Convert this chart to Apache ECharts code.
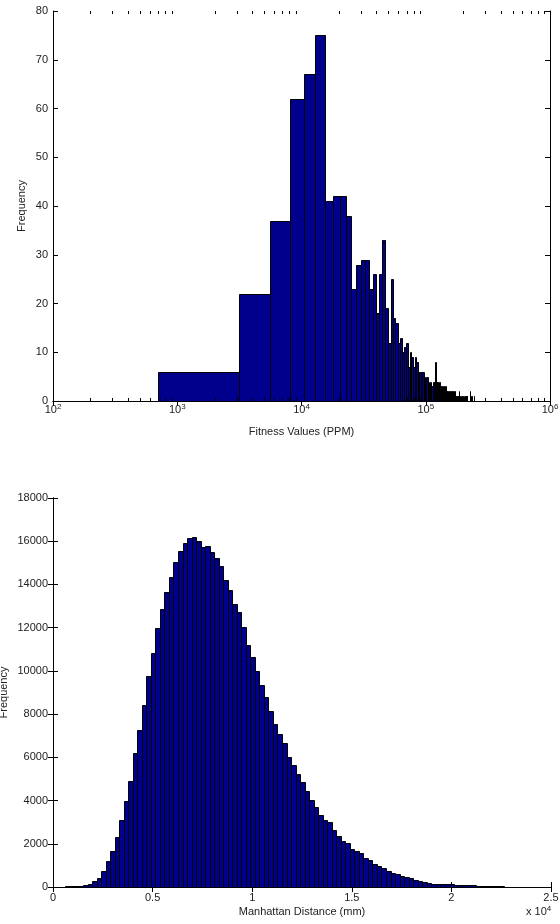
<!DOCTYPE html>
<html>
<head>
<meta charset="utf-8">
<script src="https://cdn.jsdelivr.net/npm/echarts@6/dist/echarts.min.js"></script>
<style>
html,body{margin:0;padding:0;background:#fff;}
#c{width:560px;height:924px;}
</style>
</head>
<body>
<div id="c"></div>
<script>
// ---------- Top histogram: fitness values (log x axis) ----------
const topBinStart = 700;      // PPM, left edge of first bin
const topBinWidth = 2450;     // PPM, linear bin width
const topCounts = [
  6, 22, 37, 62, 67, 75, 41, 42, 42, 38,
  23, 28, 29, 29, 23, 26, 18, 26, 33, 19,
  12, 25, 17, 16, 12, 13, 10, 11, 12, 7,
  10, 9, 7, 9, 8, 6, 6, 6, 6, 5,
  4, 5, 4, 3, 4, 3, 4, 4, 8, 4,
  4, 3, 4, 3, 3, 2, 3, 2, 3, 2,
  2, 1, 2, 2, 1, 2, 2, 1, 1, 2,
  1, 1, 0, 1, 1, 2, 1, 0, 1, 1,
  0, 1, 0, 0, 1, 0, 1, 1, 0, 0,
  0, 0, 2, 0, 0, 1, 0, 0, 0, 1
];
const topXTickExponents = [2, 3, 4, 5, 6];
const topYTicks = [0, 10, 20, 30, 40, 50, 60, 70, 80];

// ---------- Bottom histogram: Manhattan distance ----------
const bottomBinStart = 600;   // mm
const bottomBinWidth = 227;   // mm
const bottomCounts = [
  30, 30, 50, 60, 100, 140, 300, 420, 730, 1200,
  1670, 2300, 3120, 3970, 4900, 6220, 7250, 8440, 9760, 10830,
  11990, 12880, 13640, 14360, 15060, 15550, 15900, 16150, 16200, 16030,
  15720, 15770, 15520, 15210, 14870, 14190, 13730, 13110, 12730, 12020,
  11220, 10660, 10010, 9330, 8780, 8160, 7540, 7080, 6680, 6020,
  5660, 5250, 4860, 4430, 4040, 3700, 3330, 3090, 3030, 2640,
  2380, 2130, 2040, 1775, 1680, 1560, 1330, 1270, 1065, 970,
  880, 760, 635, 590, 520, 465, 415, 325, 280, 250,
  205, 160, 155, 150, 125, 120, 85, 80, 80, 75,
  70, 65, 40, 35, 30, 30, 25, 20, 20, 15
];
const bottomXTicks = [0, 5000, 10000, 15000, 20000, 25000];
const bottomXTickLabels = ['0', '0.5', '1', '1.5', '2', '2.5'];
const bottomYTicks = [0, 2000, 4000, 6000, 8000, 10000, 12000, 14000, 16000, 18000];

// ---------- build ----------
const FONT = '"Liberation Sans", Arial, Helvetica, sans-serif';
const TXT = '#222';
const BAR = '#00008C';

const topBars = topCounts.map((c, i) => [topBinStart + i * topBinWidth, topBinStart + (i + 1) * topBinWidth, c]);
const bottomBars = bottomCounts.map((c, i) => [bottomBinStart + i * bottomBinWidth, bottomBinStart + (i + 1) * bottomBinWidth, c]);

// minor ticks of the log axis (2..9 x 10^d)
const topMinorTicks = [];
for (let d = topXTickExponents[0]; d < topXTickExponents[topXTickExponents.length - 1]; d++) {
  for (let k = 2; k <= 9; k++) topMinorTicks.push([k * Math.pow(10, d), 0]);
}

function barRender(params, api) {
  const h = api.value(2);
  if (h <= 0) return null;
  const p0 = api.coord([api.value(0), 0]);
  const p1 = api.coord([api.value(1), h]);
  const x0 = Math.round(p0[0]) + 0.5;
  const x1 = Math.round(p1[0]) + 0.5;
  const yb = Math.round(p0[1]) + 0.5;
  const yt = Math.round(p1[1]) + 0.5;
  return {
    type: 'rect',
    shape: { x: x0, y: yt, width: x1 - x0, height: yb - yt },
    style: { fill: BAR, stroke: '#000', lineWidth: 1 }
  };
}

function minorTickRender(params, api) {
  const cs = params.coordSys;
  const x = Math.round(api.coord([api.value(0), 0])[0]) + 0.5;
  const yb = cs.y + cs.height;
  return {
    type: 'group',
    children: [
      { type: 'line', shape: { x1: x, y1: yb, x2: x, y2: yb - 3 }, style: { stroke: '#000', lineWidth: 1 } },
      { type: 'line', shape: { x1: x, y1: cs.y, x2: x, y2: cs.y + 3 }, style: { stroke: '#000', lineWidth: 1 } }
    ]
  };
}

const lineStyle = { color: '#000', width: 1 };
const labelStyle = { color: TXT, fontFamily: FONT, fontSize: 11 };
const nameStyle = { color: TXT, fontFamily: FONT, fontSize: 11 };
const plain = v => String(v);

const option = {
  backgroundColor: '#fff',
  animation: false,
  grid: [
    { left: 53, top: 11, width: 497, height: 390, containLabel: false, outerBoundsMode: 'none' },
    { left: 53, top: 498, width: 498, height: 389, containLabel: false, outerBoundsMode: 'none' }
  ],
  xAxis: [
    {
      gridIndex: 0, type: 'log', logBase: 10, min: 100, max: 1000000, position: 'bottom',
      axisLine: { show: true, lineStyle },
      axisTick: { show: true, inside: true, length: 5, lineStyle },
      axisLabel: {
        margin: 2, fontFamily: FONT, color: TXT, hideOverlap: false,
        formatter: v => {
          const e = Math.round(Math.log10(v));
          return topXTickExponents.indexOf(e) >= 0 ? '{b|10}{s|' + e + '}' : '';
        },
        rich: {
          b: { fontSize: 11, fontFamily: FONT, color: TXT },
          s: { fontSize: 8, fontFamily: FONT, color: TXT, padding: [0, 0, 6, 0] }
        }
      },
      splitLine: { show: false },
      name: 'Fitness Values (PPM)', nameLocation: 'middle', nameGap: 25, nameMoveOverlap: false, nameTextStyle: nameStyle
    },
    {
      gridIndex: 0, type: 'log', logBase: 10, min: 100, max: 1000000, position: 'top',
      axisLine: { show: true, lineStyle },
      axisTick: { show: true, inside: true, length: 5, lineStyle },
      axisLabel: { show: false },
      splitLine: { show: false }
    },
    {
      gridIndex: 1, type: 'value', min: bottomXTicks[0], max: bottomXTicks[bottomXTicks.length - 1],
      interval: bottomXTicks[1] - bottomXTicks[0], position: 'bottom',
      axisLine: { show: true, lineStyle },
      axisTick: { show: true, inside: true, length: 5, lineStyle },
      axisLabel: Object.assign({ margin: 5, hideOverlap: false,
        formatter: v => bottomXTickLabels[bottomXTicks.indexOf(v)] || '' }, labelStyle),
      splitLine: { show: false },
      name: 'Manhattan Distance (mm)', nameLocation: 'middle', nameGap: 19, nameMoveOverlap: false, nameTextStyle: nameStyle
    },
    {
      gridIndex: 1, type: 'value', min: bottomXTicks[0], max: bottomXTicks[bottomXTicks.length - 1],
      interval: bottomXTicks[1] - bottomXTicks[0], position: 'top',
      axisLine: { show: true, lineStyle },
      axisTick: { show: true, inside: true, length: 5, lineStyle },
      axisLabel: { show: false },
      splitLine: { show: false }
    }
  ],
  yAxis: [
    {
      gridIndex: 0, type: 'value', min: topYTicks[0], max: topYTicks[topYTicks.length - 1],
      interval: topYTicks[1] - topYTicks[0], position: 'left',
      axisLine: { show: true, lineStyle },
      axisTick: { show: true, inside: true, length: 5, lineStyle },
      axisLabel: Object.assign({ margin: 5, formatter: plain }, labelStyle),
      splitLine: { show: false },
      name: 'Frequency', nameLocation: 'middle', nameGap: 26, nameMoveOverlap: false, nameTextStyle: nameStyle
    },
    {
      gridIndex: 0, type: 'value', min: topYTicks[0], max: topYTicks[topYTicks.length - 1],
      interval: topYTicks[1] - topYTicks[0], position: 'right',
      axisLine: { show: true, lineStyle },
      axisTick: { show: true, inside: true, length: 5, lineStyle },
      axisLabel: { show: false },
      splitLine: { show: false }
    },
    {
      gridIndex: 1, type: 'value', min: bottomYTicks[0], max: bottomYTicks[bottomYTicks.length - 1],
      interval: bottomYTicks[1] - bottomYTicks[0], position: 'left',
      axisLine: { show: true, lineStyle },
      axisTick: { show: true, inside: true, length: 5, lineStyle },
      axisLabel: Object.assign({ margin: 5, formatter: plain }, labelStyle),
      splitLine: { show: false },
      name: 'Frequency', nameLocation: 'middle', nameGap: 44, nameMoveOverlap: false, nameTextStyle: nameStyle
    },
    {
      gridIndex: 1, type: 'value', min: bottomYTicks[0], max: bottomYTicks[bottomYTicks.length - 1],
      interval: bottomYTicks[1] - bottomYTicks[0], position: 'right',
      axisLine: { show: true, lineStyle },
      axisTick: { show: true, inside: true, length: 5, lineStyle },
      axisLabel: { show: false },
      splitLine: { show: false }
    }
  ],
  graphic: [
    {
      type: 'text', left: 526, top: 905,
      style: {
        text: '{b|x 10}{s|4}',
        rich: {
          b: { fontSize: 11, fontFamily: FONT, fill: TXT },
          s: { fontSize: 8, fontFamily: FONT, fill: TXT, padding: [0, 0, 6, 0] }
        }
      }
    }
  ],
  series: [
    {
      type: 'custom', name: 'fitness', xAxisIndex: 0, yAxisIndex: 0,
      renderItem: barRender, data: topBars, encode: { x: [0, 1], y: 2 }, silent: true
    },
    {
      type: 'custom', name: 'minorTicks', xAxisIndex: 0, yAxisIndex: 0,
      renderItem: minorTickRender, data: topMinorTicks, encode: { x: 0, y: 1 }, silent: true, z: 5
    },
    {
      type: 'custom', name: 'distance', xAxisIndex: 2, yAxisIndex: 2,
      renderItem: barRender, data: bottomBars, encode: { x: [0, 1], y: 2 }, silent: true
    }
  ]
};

const chart = echarts.init(document.getElementById('c'), null, { renderer: 'canvas', width: 560, height: 924 });
chart.setOption(option);
</script>
</body>
</html>
